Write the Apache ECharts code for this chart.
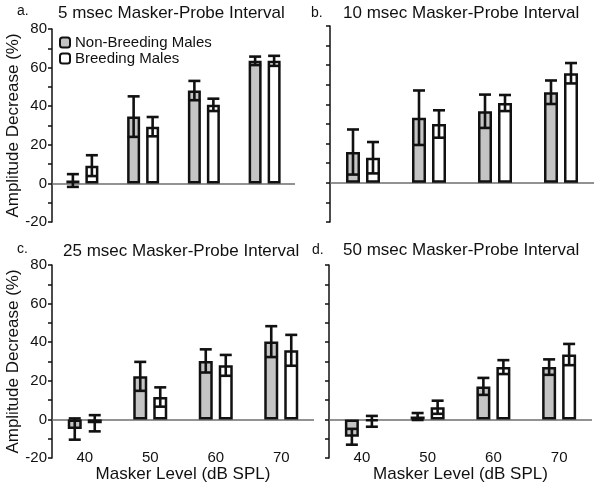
<!DOCTYPE html>
<html><head><meta charset="utf-8">
<script src="https://cdn.jsdelivr.net/npm/echarts@6/dist/echarts.min.js"></script>
<style>html,body{margin:0;padding:0;background:#fff}#c{width:602px;height:488px}</style>
</head><body><div id="c"></div>
<script>
var categories = ['40', '50', '60', '70'];
var yTicks = [-20, 0, 20, 40, 60, 80];
var panelTitles = ['5 msec Masker-Probe Interval', '10 msec Masker-Probe Interval', '25 msec Masker-Probe Interval', '50 msec Masker-Probe Interval'];
var panelLetters = ['a.', 'b.', 'c.', 'd.'];
var seriesNames = ['Non-Breeding Males', 'Breeding Males'];

var aNonBreeding = [1.5, 34.6, 48.1, 63.5];
var aNonBreedingErr = [3.3, 10.5, 5.0, 2.2];
var aBreeding = [9.2, 29.4, 40.7, 63.5];
var aBreedingErr = [5.4, 5.0, 3.2, 2.6];

var bNonBreeding = [15.7, 33.2, 36.5, 46.2];
var bNonBreedingErr = [11.5, 13.9, 8.5, 6.0];
var bBreeding = [12.8, 30.0, 40.7, 55.9];
var bBreedingErr = [8.0, 7.0, 4.1, 5.2];

var cNonBreeding = [-5.0, 22.3, 30.3, 40.3];
var cNonBreedingErr = [5.5, 7.5, 6.0, 8.0];
var cBreeding = [-2.0, 11.6, 28.0, 35.8];
var cBreedingErr = [4.2, 5.0, 5.4, 8.0];

var dNonBreeding = [-9.0, 1.5, 17.1, 27.1];
var dNonBreedingErr = [4.1, 1.8, 4.4, 4.0];
var dBreeding = [-1.0, 6.3, 27.1, 33.6];
var dBreedingErr = [2.8, 3.4, 3.6, 5.5];

var panels = [
  {nb: aNonBreeding, nbe: aNonBreedingErr, b: aBreeding, be: aBreedingErr},
  {nb: bNonBreeding, nbe: bNonBreedingErr, b: bBreeding, be: bBreedingErr},
  {nb: cNonBreeding, nbe: cNonBreedingErr, b: cBreeding, be: cBreedingErr},
  {nb: dNonBreeding, nbe: dNonBreedingErr, b: dBreeding, be: dBreedingErr}
];

var FONT = '"Liberation Sans", Arial, sans-serif';
var grids = [
  {left: 52, top: 29, width: 243, height: 193},
  {left: 330, top: 26, width: 264, height: 196},
  {left: 52, top: 265, width: 262, height: 193},
  {left: 329, top: 265, width: 263, height: 193}
];
var barW = [13, 14, 14, 14];
var gapPx = 6;
var titlePos = [
  {lx: 17, ly: 4, tx: 58, ty: 5},
  {lx: 311, ly: 6, tx: 343, ty: 5},
  {lx: 17, ly: 242, tx: 63, ty: 243},
  {lx: 312, ly: 243, tx: 343, ty: 242}
];

var option = {
  animation: false,
  backgroundColor: '#fff',
  textStyle: {fontFamily: FONT},
  title: [],
  legend: {
    data: seriesNames, orient: 'vertical', left: 59, top: 35, itemWidth: 10, itemHeight: 10,
    itemGap: 1, padding: 0,
    textStyle: {fontFamily: FONT, fontSize: 15, color: '#111'}
  },
  grid: grids,
  xAxis: [], yAxis: [], series: []
};

function errRender(offset) {
  return function (params, api) {
    var idx = api.value(0);
    var lo = api.coord([idx, api.value(1)]);
    var hi = api.coord([idx, api.value(2)]);
    var x = lo[0] + offset;
    var cap = 6;
    var st = {stroke: '#111', lineWidth: 2.6};
    return {type: 'group', children: [
      {type: 'line', shape: {x1: x, y1: lo[1], x2: x, y2: hi[1]}, style: st},
      {type: 'line', shape: {x1: x - cap, y1: lo[1], x2: x + cap, y2: lo[1]}, style: st},
      {type: 'line', shape: {x1: x - cap, y1: hi[1], x2: x + cap, y2: hi[1]}, style: st}
    ]};
  };
}

panels.forEach(function (p, i) {
  var bottom = i >= 2;
  option.title.push({text: panelLetters[i], left: titlePos[i].lx, top: titlePos[i].ly, padding: 0,
    textStyle: {fontFamily: FONT, fontSize: 14, fontWeight: 'normal', color: '#111'}});
  option.title.push({text: panelTitles[i], left: titlePos[i].tx, top: titlePos[i].ty, padding: 0,
    textStyle: {fontFamily: FONT, fontSize: 17, fontWeight: 'normal', color: '#111'}});
  option.xAxis.push({
    type: 'category', gridIndex: i, data: categories,
    axisLine: {show: false}, axisTick: {show: false},
    axisLabel: {show: bottom, margin: -8, fontSize: 15, color: '#111', fontFamily: FONT},
    name: bottom ? 'Masker Level (dB SPL)' : '', nameLocation: 'middle', nameGap: 16,
    nameTextStyle: {fontSize: 17, color: '#111', fontFamily: FONT, verticalAlign: 'middle'}
  });
  var leftCol = (i % 2 === 0);
  option.yAxis.push({
    type: 'value', gridIndex: i, min: -20, max: 80, interval: 10,
    axisLine: {show: true, lineStyle: {color: '#111', width: 1.5}},
    axisTick: {show: true, length: 4, lineStyle: {color: '#111', width: 1.5}},
    splitLine: {show: false},
    axisLabel: {show: leftCol, margin: 5, fontSize: 15, color: '#111', fontFamily: FONT,
      formatter: function (v) { return yTicks.indexOf(v) >= 0 ? String(v) : ''; }},
    name: leftCol ? 'Amplitude Decrease (%)' : '', nameLocation: 'middle', nameGap: 37,
    nameTextStyle: {fontSize: 17, color: '#111', fontFamily: FONT, verticalAlign: 'middle'}
  });
  var w = barW[i];
  var off = (w + gapPx) / 2;
  option.series.push({
    name: seriesNames[0], type: 'bar', xAxisIndex: i, yAxisIndex: i, data: p.nb,
    barWidth: w, barGap: (gapPx / w * 100) + '%',
    itemStyle: {color: '#c4c4c4', borderColor: '#111', borderWidth: 2.5},
    markLine: {silent: true, symbol: 'none', label: {show: false},
      lineStyle: {color: '#6e6e6e', width: 1.5, type: 'solid'}, data: [{yAxis: 0}], z: 1}
  });
  option.series.push({
    name: seriesNames[1], type: 'bar', xAxisIndex: i, yAxisIndex: i, data: p.b,
    barWidth: w,
    itemStyle: {color: '#ffffff', borderColor: '#111', borderWidth: 2.5}
  });
  var e1 = p.nb.map(function (v, k) { return [k, v - p.nbe[k], v + p.nbe[k]]; });
  var e2 = p.b.map(function (v, k) { return [k, v - p.be[k], v + p.be[k]]; });
  option.series.push({type: 'custom', xAxisIndex: i, yAxisIndex: i, data: e1, z: 5,
    renderItem: errRender(-off), encode: {x: 0, y: [1, 2]}});
  option.series.push({type: 'custom', xAxisIndex: i, yAxisIndex: i, data: e2, z: 5,
    renderItem: errRender(off), encode: {x: 0, y: [1, 2]}});
});

var chart = echarts.init(document.getElementById('c'), null, {renderer: 'canvas'});
chart.setOption(option);
</script></body></html>
